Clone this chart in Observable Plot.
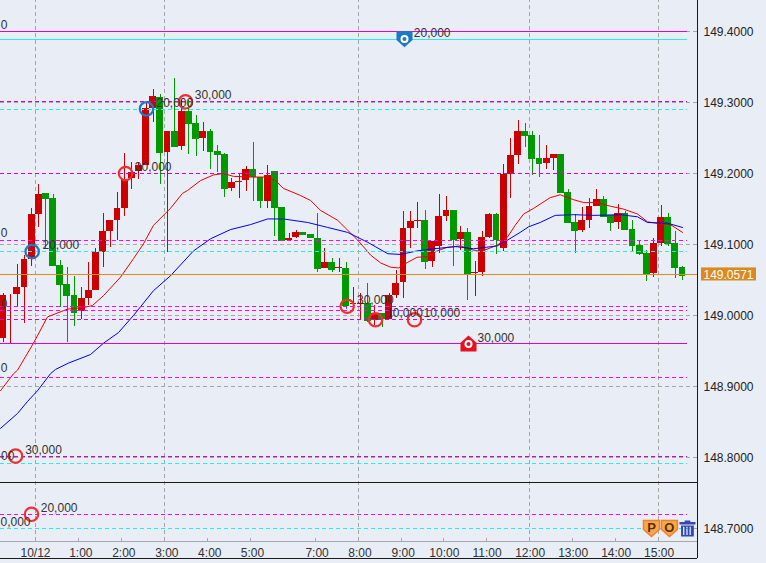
<!DOCTYPE html>
<html>
<head>
<meta charset="utf-8">
<style>
html,body{margin:0;padding:0;background:#e9edf5;overflow:hidden}
svg{display:block}
</style>
<script src="https://cdn.jsdelivr.net/npm/d3@7"></script>
<script src="https://cdn.jsdelivr.net/npm/@observablehq/plot@0.6"></script>
</head>
<body>
<div id="chart"></div>
<script>
// 10-minute candles, index 0..95
const opens = [148.968,149.029,149.030,149.040,149.079,149.142,149.172,149.165,149.070,149.044,149.028,149.005,149.024,149.035,149.089,149.118,149.134,149.151,149.193,149.203,149.211,149.291,149.307,149.230,149.259,149.238,149.287,149.270,149.249,149.259,149.231,149.227,149.179,149.188,149.190,149.205,149.195,149.161,149.203,149.152,149.105,149.110,149.117,149.114,149.109,149.066,149.075,149.066,149.066,149.016,149.016,149.017,148.993,149.003,148.994,149.028,149.046,149.122,149.133,149.134,149.076,149.097,149.139,149.148,149.107,149.117,149.059,149.060,149.110,149.142,149.095,149.199,149.225,149.259,149.254,149.221,149.214,149.221,149.227,149.173,149.131,149.120,149.134,149.153,149.163,149.141,149.131,149.144,149.121,149.099,149.087,149.059,149.101,149.138,149.101,149.068];
const highs = [149.031,149.030,149.072,149.084,149.151,149.185,149.172,149.170,149.077,149.068,149.055,149.040,149.074,149.094,149.143,149.134,149.173,149.228,149.215,149.216,149.299,149.318,149.311,149.259,149.334,149.303,149.303,149.282,149.272,149.262,149.240,149.228,149.193,149.200,149.210,149.243,149.195,149.211,149.203,149.152,149.115,149.120,149.117,149.114,149.143,149.094,149.080,149.080,149.075,149.039,149.031,149.045,149.014,149.003,149.031,149.063,149.146,149.146,149.159,149.148,149.104,149.170,149.168,149.148,149.125,149.122,149.076,149.118,149.144,149.144,149.213,149.249,149.275,149.270,149.259,149.254,149.239,149.227,149.227,149.177,149.142,149.152,149.165,149.177,149.168,149.141,149.156,149.146,149.134,149.104,149.092,149.108,149.155,149.144,149.118,149.069];
const lows = [148.962,148.961,149.013,148.989,149.069,149.124,149.094,149.069,149.011,148.962,148.985,148.995,149.014,149.035,149.068,149.096,149.105,149.140,149.177,149.191,149.211,149.272,149.185,149.089,149.236,149.232,149.227,149.224,149.231,149.206,149.202,149.166,149.174,149.165,149.174,149.161,149.150,149.150,149.111,149.104,149.105,149.109,149.113,149.109,149.061,149.066,149.061,149.060,149.008,149.009,148.994,148.990,148.986,148.983,148.994,149.024,149.024,149.095,149.123,149.065,149.068,149.087,149.133,149.069,149.091,149.021,149.027,149.055,149.108,149.086,149.090,149.165,149.212,149.237,149.197,149.194,149.206,149.204,149.172,149.130,149.088,149.117,149.122,149.153,149.138,149.118,149.121,149.120,149.089,149.084,149.048,149.053,149.097,149.097,149.052,149.049];
const closes = [149.028,149.030,149.039,149.079,149.142,149.171,149.163,149.069,149.042,149.027,149.003,149.024,149.035,149.089,149.118,149.134,149.151,149.192,149.201,149.211,149.291,149.308,149.228,149.259,149.237,149.287,149.269,149.248,149.259,149.230,149.225,149.178,149.187,149.189,149.205,149.195,149.160,149.197,149.151,149.104,149.109,149.117,149.113,149.109,149.065,149.075,149.064,149.067,149.013,149.017,149.017,148.992,149.003,148.994,149.028,149.045,149.122,149.132,149.134,149.075,149.104,149.139,149.148,149.106,149.117,149.058,149.060,149.110,149.142,149.106,149.199,149.225,149.259,149.252,149.220,149.213,149.221,149.227,149.172,149.130,149.118,149.134,149.153,149.163,149.138,149.130,149.144,149.120,149.097,149.086,149.058,149.101,149.138,149.100,149.066,149.055];

// moving averages (candle index, price)
const fastIdx = [-0.35,1.47,2.03,4.26,6.22,9.02,11.11,12.51,14.05,16.43,18.24,19.64,21.04,23.42,25.09,25.79,27.61,29.43,30.83,32.2,34.6,37.1,38.1,39.2,41.6,43.0,44.4,46.8,48.2,49.6,51.4,52.8,54.2,55.3,56.6,57.9,59.4,60.7,62.1,64.0,65.4,66.8,69.1,70.5,71.6,72.8,74.2,76.5,77.9,79.8,81.2,83.1,84.9,86.7,88.7,90.1,91.9,93.3,95];
const fastMA = [148.894,148.918,148.923,148.961,148.998,149.009,149.011,149.014,149.028,149.054,149.080,149.101,149.127,149.151,149.172,149.176,149.190,149.198,149.200,149.196,149.195,149.195,149.190,149.179,149.169,149.162,149.148,149.134,149.120,149.106,149.085,149.074,149.068,149.067,149.075,149.082,149.083,149.091,149.096,149.098,149.093,149.090,149.099,149.110,149.127,149.143,149.151,149.166,149.170,149.163,149.159,149.159,149.154,149.150,149.143,149.132,149.129,149.128,149.117];
const slowIdx = [-0.35,2.03,3.43,4.82,6.64,7.34,9.16,12.23,14.05,16.15,18.24,21.04,23.42,26.63,29.01,31.8,34.6,37.0,39.2,42.6,45.4,48.2,51.0,53.8,55.6,57.9,60.2,63.3,65.8,69.1,70.5,72.3,73.5,75.1,77.2,79.8,82.6,86.3,88.7,90.1,92.9,95];
const slowMA = [148.841,148.862,148.879,148.894,148.918,148.924,148.933,148.945,148.961,148.976,149.000,149.035,149.056,149.091,149.108,149.121,149.128,149.136,149.136,149.131,149.124,149.117,149.103,149.087,149.086,149.091,149.094,149.097,149.094,149.098,149.106,149.117,149.125,149.131,149.141,149.142,149.141,149.142,149.139,149.131,149.130,149.124];

// axes
const priceTicks = [149.4,149.3,149.2,149.1,149.0,148.9,148.8,148.7];
const hourTicks = [4.55,10.60,16.61,22.62,28.63,34.60,43.63,49.63,55.66,61.65,67.63,73.65,79.66,85.67,91.68];
const hourLabelIdx = [4.54,10.88,16.89,22.90,28.91,34.88,43.91,49.91,55.94,61.70,67.68,73.70,79.71,85.72,91.73];
const hourLabels = ["10/12","1:00","2:00","3:00","4:00","5:00","7:00","8:00","9:00","10:00","11:00","12:00","13:00","14:00","15:00"];
const gridHours = [4.55,22.62,49.63,73.65,91.68];

// order lines
const solidMagenta = [149.4000,148.9606];
const solidCyan = [149.3887];
const dashBright = [149.1056,149.0127,149.0071,148.9127,148.7197];
const dashDark = [149.3014,149.2000,148.9944,148.8014];
const dashCyan = [149.2901,149.0901,148.7915,148.7000];
const lastPrice = 149.0578;
const lastPriceLabel = "149.0571";

// order markers
const redRingIdx = [25.51,17.13,48.12,52.08,57.53,1.75,3.98];
const redRingPrice = [149.301,149.200,149.013,148.994,148.994,148.802,148.720];
const blueRingIdx = [20.06,4.08];
const blueRingPrice = [149.291,149.090];
const amountIdx = [57.43,26.81,21.46,18.43,5.52,49.49,53.57,58.79,66.34,3.10,5.28];
const amountPrice = [149.399,149.311,149.300,149.209,149.100,149.023,149.004,149.004,148.969,148.811,148.730];
const amountText = ["20,000","30,000","20,000","30,000","20,000","30,000","10,000","10,000","30,000","30,000","20,000"];
const cutIdx = [0.63,0.63,0.63,0.63,1.6,3.85];
const cutPrice = [149.410,149.116,149.017,148.927,148.802,148.710];
const cutText = ["0","0","0","0","00","0,000"];

const yDomain = [148.6507,149.44366];
const xDomain = [-0.35,106.74];
const lineEnd = 95.7, paneEnd = 97.1, labelX = 97.93;
const sepPrice = 148.7654, axisPrice = 148.6818, bottomPrice = 148.6575, axisLabelPrice = 148.6662;

const rows = opens.map((o,i)=>({i,open:o,high:highs[i],low:lows[i],close:closes[i]}));
const ups = rows.filter(d=>d.close>=d.open), downs = rows.filter(d=>d.close<d.open);
const zip = (a,b)=>a.map((v,i)=>({x:v,y:b[i]}));

const RED="#cc0000", GREEN="#009900";
const font="'Liberation Sans', Arial, sans-serif";

const pentDown = {draw(c,s){const r=Math.sqrt(s/Math.PI);c.moveTo(-r,-r);c.lineTo(r,-r);c.lineTo(r,0.1*r);c.lineTo(0,r);c.lineTo(-r,0.1*r);c.closePath();}};
const pentUp = {draw(c,s){const r=Math.sqrt(s/Math.PI);c.moveTo(-r,r);c.lineTo(r,r);c.lineTo(r,-0.1*r);c.lineTo(0,-r);c.lineTo(-r,-0.1*r);c.closePath();}};
const trash = {draw(c,s){const r=Math.sqrt(s/Math.PI);
  const box=(x0,y0,x1,y1)=>{c.moveTo(x0*r,y0*r);c.lineTo(x1*r,y0*r);c.lineTo(x1*r,y1*r);c.lineTo(x0*r,y1*r);c.closePath();};
  box(-0.35,-1,0.35,-0.8); box(-1,-0.8,1,-0.5); box(-0.8,-0.38,-0.55,1); box(-0.38,-0.38,-0.14,1); box(0.02,-0.38,0.26,1); box(0.42,-0.38,0.8,1); box(-0.8,0.8,0.8,1); box(-0.8,-0.38,0.8,-0.22);
}};

const crisp={shapeRendering:"crispEdges"};
const chart = Plot.plot({
  width:766, height:563, margin:0,
  x:{domain:xDomain, axis:null},
  y:{domain:yDomain, axis:null},
  style:{background:"#e9edf5", fontFamily:font},
  marks:[
    // grid
    Plot.ruleX(gridHours,{y1:axisPrice,y2:yDomain[1],stroke:"#a6a6a6",strokeDasharray:"4,3",...crisp}),
    Plot.ruleY(priceTicks,{x1:xDomain[0],x2:paneEnd,stroke:"#a6a6a6",strokeDasharray:"4,3",...crisp}),
    // candles
    Plot.ruleX(ups,{x:"i",y1:"low",y2:"high",stroke:RED,...crisp}),
    Plot.ruleX(downs,{x:"i",y1:"low",y2:"high",stroke:GREEN,...crisp}),
    Plot.rect(ups,{x1:d=>d.i-0.48,x2:d=>d.i+0.48,y1:"open",y2:"close",fill:RED,...crisp}),
    Plot.rect(downs,{x1:d=>d.i-0.48,x2:d=>d.i+0.48,y1:"open",y2:"close",fill:GREEN,...crisp}),
    // moving averages
    Plot.line(zip(fastIdx,fastMA),{x:"x",y:"y",stroke:"#ee0000",strokeWidth:1}),
    Plot.line(zip(slowIdx,slowMA),{x:"x",y:"y",stroke:"#0000ee",strokeWidth:1}),
    // order lines
    Plot.ruleY(solidMagenta,{x1:xDomain[0],x2:lineEnd,stroke:"#e000d8",...crisp}),
    Plot.ruleY(solidCyan,{x1:xDomain[0],x2:lineEnd,stroke:"#20eef0",...crisp}),
    Plot.ruleY(dashBright,{x1:xDomain[0],x2:lineEnd,stroke:"#ff00ff",strokeDasharray:"4,3",...crisp}),
    Plot.ruleY(dashDark,{x1:xDomain[0],x2:lineEnd,stroke:"#d800d0",strokeDasharray:"4,3",...crisp}),
    Plot.ruleY(dashCyan,{x1:xDomain[0],x2:lineEnd,stroke:"#20eef0",strokeDasharray:"4,3",...crisp}),
    Plot.ruleY([lastPrice],{x1:xDomain[0],x2:paneEnd,stroke:"#e08a1e",...crisp}),
    // frame
    Plot.ruleY([sepPrice],{x1:xDomain[0],x2:paneEnd,stroke:"#1a1a1a",...crisp}),
    Plot.ruleY([axisPrice],{x1:xDomain[0],x2:paneEnd,stroke:"#a8a8a8",...crisp}),
    Plot.ruleY([bottomPrice],{x1:xDomain[0],x2:paneEnd,stroke:"#1a1a1a",...crisp}),
    Plot.ruleX([paneEnd],{y1:bottomPrice,y2:yDomain[1],stroke:"#1a1a1a",...crisp}),
    Plot.ruleX(hourTicks,{y1:axisPrice,y2:axisPrice+0.004,stroke:"#a8a8a8",...crisp}),
    // rings
    Plot.dot(zip(redRingIdx,redRingPrice),{x:"x",y:"y",r:6.7,stroke:"#f03030",strokeWidth:2.2,fill:"none"}),
    Plot.dot(zip(blueRingIdx,blueRingPrice),{x:"x",y:"y",r:6.7,stroke:"#1e78c8",strokeWidth:2.2,fill:"none"}),
    // amounts
    Plot.text(amountText,{x:(d,i)=>amountIdx[i],y:(d,i)=>amountPrice[i],text:d=>d,textAnchor:"start",fontSize:12,fill:"#333",dy:0.5}),
    Plot.text(cutText,{x:(d,i)=>cutIdx[i],y:(d,i)=>cutPrice[i],text:d=>d,textAnchor:"end",fontSize:12,fill:"#333",dy:0.5}),
    // pending order flags
    Plot.dot([{x:56.13,y:149.389}],{x:"x",y:"y",r:8,symbol:pentDown,fill:"#1e78c8"}),
    Plot.dot([{x:56.13,y:149.3895}],{x:"x",y:"y",r:3,stroke:"white",strokeWidth:2,fill:"#1e78c8"}),
    Plot.dot([{x:65.08,y:148.9606}],{x:"x",y:"y",r:8,symbol:pentUp,fill:"#e8101e"}),
    Plot.dot([{x:65.08,y:148.960}],{x:"x",y:"y",r:3,stroke:"white",strokeWidth:2,fill:"#e8101e"}),
    // buttons
    Plot.dot([{x:90.66,y:148.700},{x:93.17,y:148.700}],{x:"x",y:"y",r:8,symbol:pentDown,fill:"#f8a848",stroke:"#f08030"}),
    Plot.text(["P","O"],{x:(d,i)=>[90.66,93.17][i],y:148.7015,text:d=>d,fontSize:13,fontWeight:"bold",fill:"#5a3000"}),
    Plot.dot([{x:95.69,y:148.700}],{x:"x",y:"y",r:8,symbol:trash,fill:"#3348b0"}),
    // price axis
    Plot.text(priceTicks,{x:labelX,y:d=>d,text:d=>d.toFixed(4),textAnchor:"start",fontSize:12,fill:"#222",dy:0.5}),
    Plot.rect([lastPrice],{x1:97.65,x2:105.34,y1:d=>d-0.0092,y2:d=>d+0.0092,fill:"#d98a20"}),
    Plot.text([lastPriceLabel],{x:labelX,y:lastPrice,text:d=>d,textAnchor:"start",fontSize:12,fill:"white",dy:0.5}),
    // time axis
    Plot.text(hourLabels,{x:(d,i)=>hourLabelIdx[i],y:axisLabelPrice,text:d=>d,fontSize:12,fill:"#333",dy:0.5})
  ]
});
document.getElementById("chart").append(chart);
</script>
</body>
</html>
